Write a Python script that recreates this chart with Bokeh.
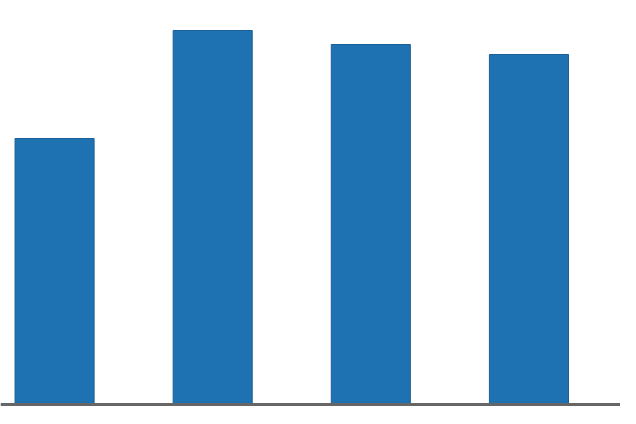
from bokeh.plotting import figure
from bokeh.models import Range1d, ColumnDataSource, Span
from bokeh.embed import file_html
from bokeh.resources import INLINE

categories = ["A", "B", "C", "D"]
values = [66.5, 93.5, 90, 87.5]

xs = list(range(len(categories)))
src = ColumnDataSource(dict(x=xs, top=values, cat=categories))

p = figure(width=620, height=408, output_backend="svg", toolbar_location=None,
           x_range=Range1d(-0.342, 3.579), y_range=Range1d(-1, 101),
           min_border=0, outline_line_color=None)
p.vbar(x="x", top="top", bottom=0, width=0.5, source=src,
       fill_color="#1f72b2", line_color="#1a5f96", line_width=1)
p.add_layout(Span(location=0, dimension="width", line_color="#666666", line_width=3))
p.xaxis.visible = False
p.yaxis.visible = False
p.grid.visible = False
p.background_fill_color = "white"
p.border_fill_color = "white"

open("out.html", "w").write(file_html(p, INLINE))
